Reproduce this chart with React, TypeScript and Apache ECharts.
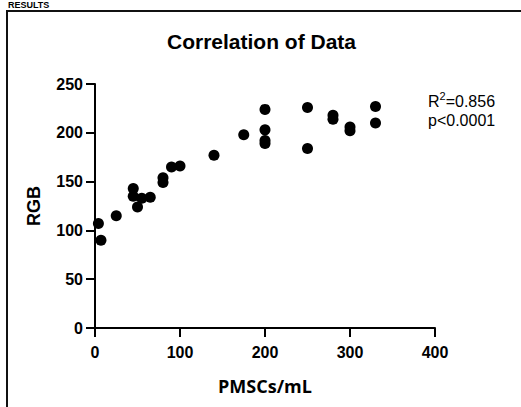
import React, { useEffect, useRef } from "react";
import * as echarts from "echarts";

const xValues = [4, 7, 25, 45, 45, 50, 55, 65, 80, 80, 90, 100, 140, 175, 200, 200, 200, 200, 250, 250, 280, 280, 300, 300, 330, 330];
const yValues = [107, 90, 115, 143, 135, 124, 133, 134, 154, 149, 165, 166, 177, 198, 224, 203, 192, 189, 226, 184, 218, 214, 206, 202, 227, 210];
const titleText = "Correlation of Data";
const xName = "PMSCs/mL";
const yName = "RGB";
const statR2 = "0.856";
const statP = "p<0.0001";
const headerText = "RESULTS";

export default function App() {
  const ref = useRef<HTMLDivElement>(null);
  useEffect(() => {
    document.body.style.margin = "0";
    if (!ref.current) return;
    const chart = echarts.init(ref.current, null, { renderer: "svg" });
    const points = xValues.map((x, i) => [x, yValues[i]]);
    const axisFont = { fontFamily: "Liberation Sans, Arial, sans-serif", fontWeight: "bold" as const, fontSize: 16, color: "#000" };
    chart.setOption({
      animation: false,
      backgroundColor: "#fff",
      title: {
        text: titleText,
        left: 167,
        top: 31,
        padding: 0,
        textStyle: { fontFamily: "Liberation Sans, Arial, sans-serif", fontWeight: "bold", fontSize: 21, color: "#000" },
      },
      grid: { left: 95, right: 86, top: 84, bottom: 79, containLabel: false },
      xAxis: {
        type: "value",
        min: 0,
        max: 400,
        interval: 100,
        name: xName,
        nameLocation: "middle",
        nameGap: 49,
        nameTextStyle: { fontFamily: "Open Sans, sans-serif", fontWeight: "bold", fontSize: 18, color: "#000" },
        axisLine: { show: true, onZero: false, lineStyle: { color: "#000", width: 2 } },
        axisTick: { show: true, length: 9, lineStyle: { color: "#000", width: 2 } },
        axisLabel: { ...axisFont, margin: 16 },
        splitLine: { show: false },
      },
      yAxis: {
        type: "value",
        min: 0,
        max: 250,
        interval: 50,
        name: yName,
        nameLocation: "middle",
        nameGap: 52,
        nameTextStyle: { fontFamily: "Liberation Sans, Arial, sans-serif", fontWeight: "bold", fontSize: 18, color: "#000" },
        axisLine: { show: true, onZero: false, lineStyle: { color: "#000", width: 2 } },
        axisTick: { show: true, length: 9, lineStyle: { color: "#000", width: 2 } },
        axisLabel: { ...axisFont, margin: 12 },
        splitLine: { show: false },
      },
      series: [
        {
          type: "scatter",
          data: points,
          symbol: "circle",
          symbolSize: 11,
          itemStyle: { color: "#000", opacity: 1 },
        },
      ],
      graphic: [
        {
          type: "rect",
          shape: { x: 7, y: 11, width: 700, height: 600 },
          style: { fill: "none", stroke: "#111", lineWidth: 2 },
          silent: true,
        },
        {
          type: "text",
          x: 8,
          y: 0,
          style: {
            text: headerText,
            font: "bold 9px Liberation Sans, Arial, sans-serif",
            fill: "#000",
            textVerticalAlign: "top",
          },
        },
        {
          type: "text",
          x: 428,
          y: 90,
          style: {
            text: "{a|R}{s|2}{a|=" + statR2 + "}\n{a|" + statP + "}",
            rich: {
              a: { fontFamily: "Liberation Sans, Arial, sans-serif", fontSize: 16, lineHeight: 19, fill: "#000", verticalAlign: "bottom" },
              s: { fontFamily: "Liberation Sans, Arial, sans-serif", fontSize: 11, lineHeight: 19, fill: "#000", verticalAlign: "top" },
            },
          },
        },
      ],
    });
    return () => chart.dispose();
  }, []);
  return <div ref={ref} style={{ width: 521, height: 407 }} />;
}
